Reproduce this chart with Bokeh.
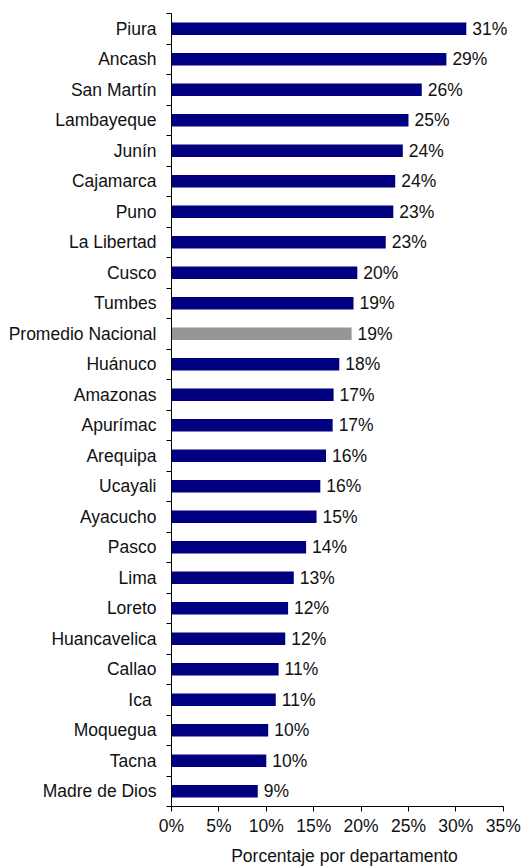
import numpy as np
from bokeh.plotting import figure
from bokeh.models import ColumnDataSource, FixedTicker, NumeralTickFormatter, Range1d, LabelSet
from bokeh.core.properties import value
from bokeh.embed import file_html
from bokeh.resources import INLINE

# ---- data (top to bottom) ----
departamentos = ["Piura", "Ancash", "San Martín", "Lambayeque", "Junín", "Cajamarca",
                 "Puno", "La Libertad", "Cusco", "Tumbes", "Promedio Nacional",
                 "Huánuco", "Amazonas", "Apurímac", "Arequipa", "Ucayali", "Ayacucho",
                 "Pasco", "Lima", "Loreto", "Huancavelica", "Callao", "Ica ",
                 "Moquegua", "Tacna", "Madre de Dios"]
porcentajes = [31.1, 29.0, 26.4, 25.0, 24.4, 23.6,
               23.4, 22.6, 19.6, 19.2, 19.0,
               17.7, 17.1, 17.0, 16.3, 15.7, 15.3,
               14.2, 12.9, 12.3, 12.0, 11.3, 11.0,
               10.2, 10.0, 9.1]
x_ticks = [0, 0.05, 0.10, 0.15, 0.20, 0.25, 0.30, 0.35]
x_axis_max = 0.35
promedio = "Promedio Nacional"

NAVY = "#000080"
GRAY = "#969696"
FONT = "Liberation Sans"
FS = "17.5px"
TXT = "#111111"

n = len(departamentos)
ys = [n - i for i in range(n)]
src = ColumnDataSource(dict(
    y=ys,
    v=[v / 100 for v in porcentajes],
    lbl=[f"{round(v):d}%" for v in porcentajes],
    color=[GRAY if d == promedio else NAVY for d in departamentos],
))

# x range extends a little past 35% so the "31%" label is not clipped;
# the axis itself is bounded to 0..35%
p = figure(width=525, height=868,
           x_range=Range1d(0, 0.365), y_range=Range1d(0.5, n + 0.5),
           output_backend="svg", toolbar_location=None,
           min_border_left=171, min_border_right=8, min_border_top=13,
           min_border_bottom=61)
p.outline_line_color = None
p.background_fill_color = "white"
p.border_fill_color = "white"
p.xgrid.grid_line_color = None
p.ygrid.grid_line_color = None

p.hbar(y="y", left=0, right="v", height=0.41, color="color", line_color=None, source=src)
labels = LabelSet(x="v", y="y", text="lbl", source=src, x_offset=6,
                  text_align="left", text_baseline="middle",
                  text_font=value(FONT), text_font_size=FS, text_color=TXT)
p.add_layout(labels)

# x axis
xa = p.xaxis[0]
xa.bounds = (0, x_axis_max)
xa.ticker = FixedTicker(ticks=x_ticks)
xa.formatter = NumeralTickFormatter(format="0%")
xa.axis_line_color = "black"
xa.major_tick_line_color = "black"
xa.major_tick_out = 5
xa.major_tick_in = 0
xa.minor_tick_line_color = None
xa.major_label_text_font = FONT
xa.major_label_text_font_size = FS
xa.major_label_text_color = TXT
xa.major_label_standoff = 4
xa.axis_label = "Porcentaje por departamento"
xa.axis_label_text_font = FONT
xa.axis_label_text_font_size = FS
xa.axis_label_text_font_style = "normal"
xa.axis_label_text_color = TXT
xa.axis_label_standoff = 7

# y axis: labels at category centres, tick marks at boundaries
ya = p.yaxis[0]
ya.ticker = FixedTicker(ticks=ys, minor_ticks=[k + 0.5 for k in range(n + 1)])
ya.major_label_overrides = {int(y): d for y, d in zip(ys, departamentos)}
ya.axis_line_color = "black"
ya.major_tick_out = 0
ya.major_tick_in = 0
ya.minor_tick_line_color = "black"
ya.minor_tick_out = 5
ya.minor_tick_in = 0
ya.major_label_text_font = FONT
ya.major_label_text_font_size = FS
ya.major_label_text_color = TXT
ya.major_label_standoff = 10

open("out.html", "w").write(file_html(p, INLINE))
